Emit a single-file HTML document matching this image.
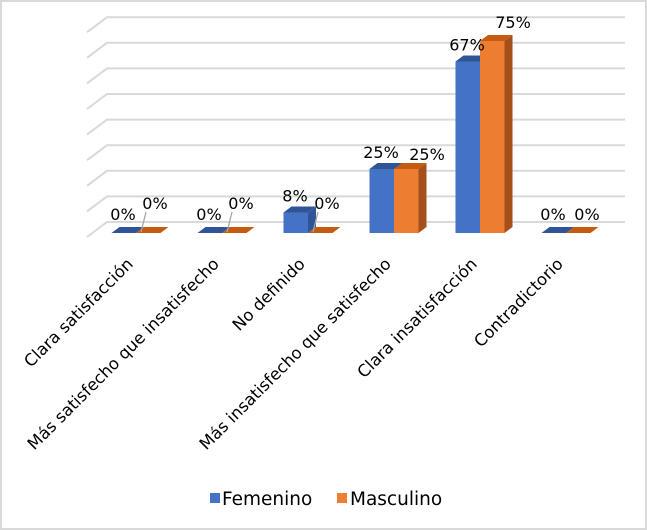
<!DOCTYPE html>
<html><head><meta charset="utf-8"><style>
html,body{margin:0;padding:0;background:#fff;}
svg{display:block;font-family:"DejaVu Sans","Liberation Sans",sans-serif;}
</style></head><body>
<svg id="chart" width="647" height="530" viewBox="0 0 647 530">
<rect x="1" y="1" width="645" height="528" fill="#fff" stroke="#d9d9d9" stroke-width="2"/>
<g id="grid"></g><g id="bars"></g><g id="labels"></g><g id="cats"></g>
<g>
<rect x="210" y="493" width="10" height="10" fill="#4472c4"/>
<text x="222" y="505" font-size="18.5" fill="#000">Femenino</text>
<rect x="337" y="493" width="10" height="10" fill="#ed7d31"/>
<text x="350" y="505" font-size="18.5" fill="#000">Masculino</text>
</g>
</svg>
<script>
const categories=["Clara satisfacción","Más satisfecho que insatisfecho","No definido","Más insatisfecho que satisfecho","Clara insatisfacción","Contradictorio"];
const femenino=[0,0,8,25,67,0];
const masculino=[0,0,0,25,75,0];
const femLabels=["0%","0%","8%","25%","67%","0%"];
const mascLabels=["0%","0%","0%","25%","75%","0%"];
const gridVals=[0,10,20,30,40,50,60,70,80];
const NS="http://www.w3.org/2000/svg";
function mk(tag,attrs,parent){const e=document.createElementNS(NS,tag);for(const k in attrs)e.setAttribute(k,attrs[k]);parent.appendChild(e);return e;}
const base=233, scale=2.56, dx=8, dy=-6, bw=24.5;
function yv(v){return base-v*scale;}
function cx(i){return 136+86*i;}
const grid=document.getElementById('grid');
gridVals.forEach(v=>{
  const y=yv(v)-11;
  const l=mk('polyline',{points:`87,${y+15} 107,${y} 625,${y}`,fill:'none',stroke:'#d9d9d9','stroke-width':2},grid);
  
  
});
const bars=document.getElementById('bars');
function bar(x,v,front,top,side,name){
  const y=yv(v);
  const g=mk('g',{},bars);
  
  
  mk('polygon',{points:`${x},${y} ${x+dx},${y+dy} ${x+bw+dx},${y+dy} ${x+bw},${y}`,fill:top},g);
  mk('polygon',{points:`${x+bw},${y} ${x+bw+dx},${y+dy} ${x+bw+dx},${base+dy} ${x+bw},${base}`,fill:side},g);
  if(v>0) mk('rect',{x:x,y:y,width:bw,height:base-y,fill:front},g);
}
categories.forEach((c,i)=>{
  bar(cx(i)-bw,femenino[i],'#4472c4','#2f5597','#2f5597','bar-femenino-'+i);
  bar(cx(i),masculino[i],'#ed7d31','#c55a11','#a54f1a','bar-masculino-'+i);
});
const labels=document.getElementById('labels');
categories.forEach((c,i)=>{
  const fy=Math.min(yv(femenino[i])-11,220);
  const t=mk('text',{x:cx(i)-13,y:(femenino[i]>0?fy:220),'font-size':16,'text-anchor':'middle',fill:'#000'},labels);
  t.textContent=femLabels[i];
  
  
  let mx=cx(i)+33, my=yv(masculino[i])-9;
  if(masculino[i]===0){ if(i===5){mx=cx(i)+21;my=220;} else {mx=cx(i)+19;my=209;} }
  if(masculino[i]>=70){my=yv(masculino[i])-13;}
  const t2=mk('text',{x:mx,y:my,'font-size':16,'text-anchor':'middle',fill:'#000'},labels);
  t2.textContent=mascLabels[i];
  
  
  if(masculino[i]===0 && i<5){
    const ln=mk('line',{x1:cx(i)+10,y1:212,x2:cx(i)+5,y2:232,stroke:'#a6a6a6','stroke-width':1.3},labels);
    
    
  }
});
const cats=document.getElementById('cats');
categories.forEach((c,i)=>{
  const x=cx(i)-2,y=265;
  const t=mk('text',{x:x,y:y,'font-size':16.5,'text-anchor':'end',fill:'#000',transform:`rotate(-45 ${x} ${y})`},cats);
  t.textContent=c;
  
  
});
</script>
</body></html>
